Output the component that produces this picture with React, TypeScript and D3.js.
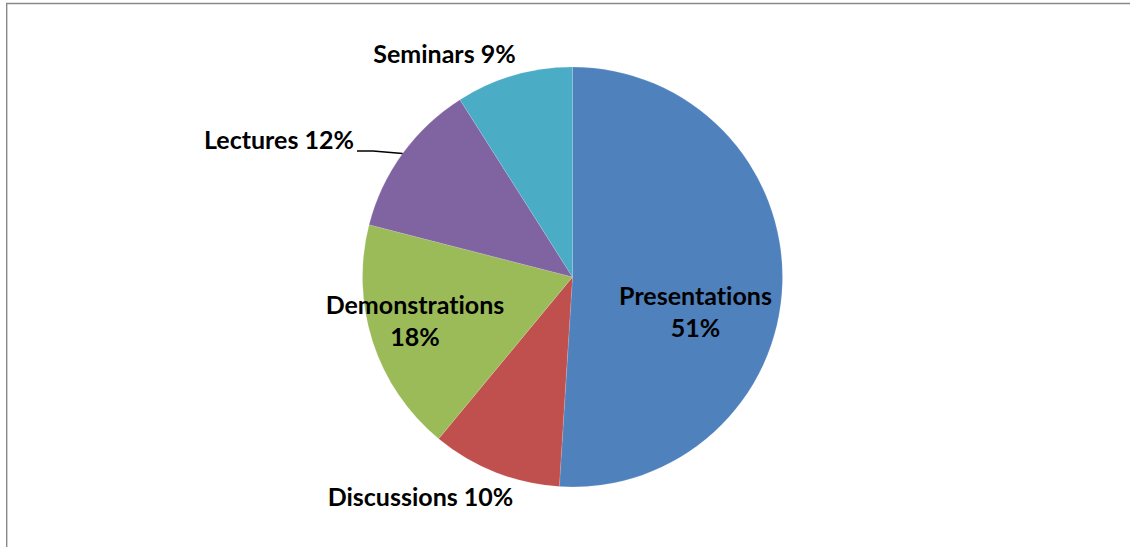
import React from "react";
import * as d3 from "d3";

const categories = ["Presentations", "Discussions", "Demonstrations", "Lectures", "Seminars"];
const values = [51, 10, 18, 12, 9];
const colors = ["#4F81BD", "#C0504D", "#9BBB59", "#8064A2", "#4BACC6"];

const W = 1130;
const H = 547;
const CX = 572.5;
const CY = 277;
const R = 210;

// label layout (text lines, anchor centre x, first baseline y)
const labelLayout: Record<string, { lines: string[]; x: number; y: number }> = {
  Presentations: { lines: ["Presentations", "51%"], x: 695.5, y: 304.5 },
  Discussions: { lines: ["Discussions 10%"], x: 420.5, y: 505.5 },
  Demonstrations: { lines: ["Demonstrations", "18%"], x: 415, y: 313.5 },
  Lectures: { lines: ["Lectures 12%"], x: 279, y: 148.5 },
  Seminars: { lines: ["Seminars 9%"], x: 444.5, y: 62.5 },
};

export default function App() {
  const data = categories.map((c, i) => ({ name: c, value: values[i], color: colors[i] }));
  const pie = d3
    .pie<any>()
    .sort(null)
    .value((d) => d.value)
    .startAngle(0)
    .endAngle(2 * Math.PI);
  const arcs = pie(data);
  const arc = d3.arc<any>().innerRadius(0).outerRadius(R);

  const lect = arcs[3];
  const mid = (lect.startAngle + lect.endAngle) / 2;
  const ex = CX + R * Math.sin(mid);
  const ey = CY - R * Math.cos(mid);

  return (
    <svg
      width={W}
      height={H}
      style={{ position: "fixed", left: 0, top: 0, background: "#fff", fontVariantLigatures: "none" }}
      fontFamily="Lato, 'Open Sans', sans-serif"
    >
      <rect x={0} y={0} width={W} height={H} fill="#fff" />
      <path d={`M6.7,${H + 5} V3.5 H${W + 5}`} fill="none" stroke="#898989" strokeWidth={1.4} />
      <g transform={`translate(${CX},${CY})`}>
        {arcs.map((a, i) => (
          <path key={i} d={arc(a) as string} fill={a.data.color} stroke="#ffffff" strokeOpacity={0.25} strokeWidth={0.5} />
        ))}
      </g>
      <polyline
        points={`357,151 373,151 ${ex},${ey}`}
        fill="none"
        stroke="#000"
        strokeWidth={1.5}
      />
      {categories.map((c) => {
        const l = labelLayout[c];
        return (
          <text
            key={c}
            x={l.x}
            y={l.y}
            textAnchor="middle"
            fontSize={25}
            fontWeight={700}
            fill="#000"
            style={{ fontVariantLigatures: "none", fontFeatureSettings: "'liga' 0, 'clig' 0" }}
          >
            {l.lines.map((t, j) => (
              <tspan key={j} x={l.x} dy={j === 0 ? 0 : 32}>
                {t}
              </tspan>
            ))}
          </text>
        );
      })}
    </svg>
  );
}
